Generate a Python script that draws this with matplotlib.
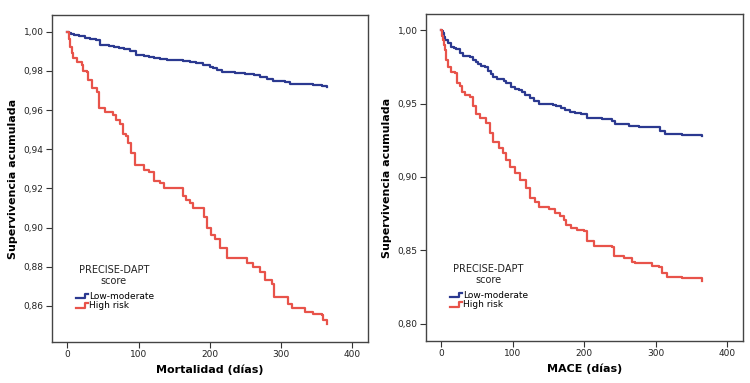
import matplotlib
matplotlib.use("Agg")
import matplotlib.pyplot as plt
from matplotlib.legend_handler import HandlerBase
from matplotlib.lines import Line2D

# ---- Data ----
mort_low_days = [0, 2, 5, 10, 16, 25, 32, 40, 46, 58, 65, 72, 80, 88, 97, 108, 115, 122, 130, 140, 162, 172, 180, 190, 200, 205, 210, 217, 235, 250, 262, 270, 280, 289, 305, 312, 325, 345, 358, 364]
mort_low_surv = [1.000, 0.9993, 0.9988, 0.9983, 0.9978, 0.9970, 0.9963, 0.9955, 0.9932, 0.9928, 0.9922, 0.9918, 0.9912, 0.9900, 0.9880, 0.9875, 0.9870, 0.9866, 0.9862, 0.9855, 0.9848, 0.9843, 0.9838, 0.9832, 0.9822, 0.9815, 0.9805, 0.9792, 0.9788, 0.9782, 0.9778, 0.9770, 0.9760, 0.9748, 0.9742, 0.9735, 0.9731, 0.9728, 0.9724, 0.9720]

mort_high_days = [0, 2, 4, 6, 8.4, 13, 20, 22.5, 28, 29.5, 34, 41, 45, 53, 64.5, 69, 74, 78.6, 82, 85.6, 90, 95, 107, 114, 121, 130, 135, 158, 162, 167, 172, 177, 188, 192, 196, 201, 207, 214, 224, 245, 252, 261, 270, 277, 287, 290, 308, 310, 316, 331, 334, 345, 357, 359, 364]
mort_high_surv = [1.000, 0.9960, 0.9923, 0.9890, 0.9864, 0.9847, 0.9830, 0.9800, 0.9796, 0.9753, 0.9710, 0.9694, 0.9610, 0.9590, 0.9575, 0.9550, 0.9530, 0.9480, 0.9465, 0.9430, 0.9380, 0.9320, 0.9294, 0.9286, 0.9240, 0.9230, 0.9200, 0.9200, 0.9160, 0.9140, 0.9125, 0.9100, 0.9100, 0.9056, 0.9000, 0.8960, 0.8940, 0.8894, 0.8843, 0.8843, 0.8820, 0.8800, 0.8775, 0.8730, 0.8710, 0.8648, 0.8648, 0.8610, 0.8588, 0.8588, 0.8570, 0.8560, 0.8554, 0.8530, 0.8510]

mace_low_days = [0, 1, 2, 4, 5.6, 9, 14, 18, 21, 26, 30, 40, 44, 48, 51, 56, 61, 65.5, 69, 72.5, 78, 82, 87, 91, 98, 103, 108, 113, 117, 124, 130, 136, 150, 156, 161, 167, 173, 180, 187, 196, 203.5, 225, 239, 243, 262, 276, 295, 306, 313, 337, 365]
mace_low_surv = [1.000, 0.9990, 0.9977, 0.9955, 0.9932, 0.9910, 0.9887, 0.9878, 0.9868, 0.9846, 0.9823, 0.9814, 0.9795, 0.9785, 0.9766, 0.9758, 0.9750, 0.9720, 0.9700, 0.9680, 0.9670, 0.9664, 0.9650, 0.9637, 0.9610, 0.9600, 0.9590, 0.9575, 0.9558, 0.9535, 0.9515, 0.9500, 0.9494, 0.9488, 0.9480, 0.9468, 0.9456, 0.9445, 0.9433, 0.9429, 0.9400, 0.9392, 0.9383, 0.9360, 0.9347, 0.9342, 0.9338, 0.9310, 0.9293, 0.9286, 0.9281]

mace_high_days = [0, 1, 2, 3.5, 4.7, 6, 7, 9.4, 14, 19, 22.5, 26, 29, 33, 40, 44, 49, 54, 63, 68, 72.5, 80, 86.5, 91, 96, 103, 110, 119, 124, 131, 136, 150, 159, 166, 171, 175, 182, 189.5, 199, 203.5, 213, 239, 242, 255, 267, 271, 292, 295, 304, 309, 316, 337, 365]
mace_high_surv = [1.000, 0.9960, 0.9930, 0.9895, 0.9864, 0.9830, 0.9796, 0.9750, 0.9717, 0.9705, 0.9640, 0.9620, 0.9580, 0.9558, 0.9546, 0.9480, 0.9430, 0.9400, 0.9370, 0.9300, 0.9240, 0.9195, 0.9160, 0.9116, 0.9070, 0.9025, 0.8980, 0.8923, 0.8855, 0.8832, 0.8798, 0.8780, 0.8753, 0.8735, 0.8710, 0.8673, 0.8650, 0.8640, 0.8635, 0.8567, 0.8530, 0.8526, 0.8460, 0.8447, 0.8424, 0.8417, 0.8413, 0.8395, 0.8390, 0.8345, 0.8320, 0.8315, 0.8290]

group_labels = ["Low-moderate", "High risk"]
legend_title = "PRECISE-DAPT\nscore"
x_ticks = [0, 100, 200, 300, 400]
left_yticks = [0.86, 0.88, 0.90, 0.92, 0.94, 0.96, 0.98, 1.00]
right_yticks = [0.80, 0.85, 0.90, 0.95, 1.00]

BLUE = "#2b3990"
RED = "#e8534a"


class StepHandler(HandlerBase):
    def create_artists(self, legend, orig_handle, xdescent, ydescent,
                       width, height, fontsize, trans):
        x0, x1 = -xdescent, -xdescent + width
        ylo, yhi = -ydescent + 0.1 * height, -ydescent + 0.8 * height
        xm = x0 + 0.7 * width
        xs = [x0, xm, xm, x1]
        ys = [ylo, ylo, yhi, yhi]
        ln = Line2D(xs, ys, color=orig_handle.get_color(), lw=1.6, transform=trans)
        return [ln]


fig = plt.figure(figsize=(7.5, 3.83), dpi=100)
axL = fig.add_axes([52 / 750, 1 - 342 / 383, 316 / 750, 327 / 383])
axR = fig.add_axes([426 / 750, 1 - 341 / 383, 317 / 750, 327 / 383])


def fmt(v, nd):
    return f"{v:.{nd}f}".replace(".", ",")


def style(ax, yticks, xlabel, ylim, nd):
    ax.set_xlim(-21.5, 422)
    ax.set_ylim(*ylim)
    ax.set_xticks(x_ticks)
    ax.set_xticklabels([str(t) for t in x_ticks])
    ax.set_yticks(yticks)
    ax.set_yticklabels([fmt(t, nd) for t in yticks])
    ax.tick_params(direction="out", length=4, width=0.8, labelsize=6.5,
                   colors="#333333", labelcolor="#222222", pad=2)
    for s in ax.spines.values():
        s.set_color("#444444")
        s.set_linewidth(1.0)
    ax.set_xlabel(xlabel, fontsize=8, fontweight="bold", labelpad=4)
    ax.set_ylabel("Supervivencia acumulada", fontsize=8, fontweight="bold", labelpad=4)


l1, = axL.step(mort_low_days, mort_low_surv, where="post", color=BLUE, lw=1.6)
l2, = axL.step(mort_high_days, mort_high_surv, where="post", color=RED, lw=1.6)
style(axL, left_yticks, "Mortalidad (días)", (0.8416, 1.0085), 2)

r1, = axR.step(mace_low_days, mace_low_surv, where="post", color=BLUE, lw=1.6)
r2, = axR.step(mace_high_days, mace_high_surv, where="post", color=RED, lw=1.6)
style(axR, right_yticks, "MACE (días)", (0.7884, 1.0109), 2)

for ax, hs in ((axL, (l1, l2)), (axR, (r1, r2))):
    ax.text(0.196, 0.237, legend_title, transform=ax.transAxes, ha="center",
            va="top", fontsize=7, multialignment="center", linespacing=1.15,
            color="#222222")
    ax.legend(hs, group_labels, loc="upper left",
              bbox_to_anchor=(0.075, 0.153), frameon=False, fontsize=6.5,
              handlelength=1.4, handletextpad=0.05, labelspacing=0.05,
              borderaxespad=0, borderpad=0,
              handler_map={Line2D: StepHandler()})

fig.savefig("out.png", dpi=100)
